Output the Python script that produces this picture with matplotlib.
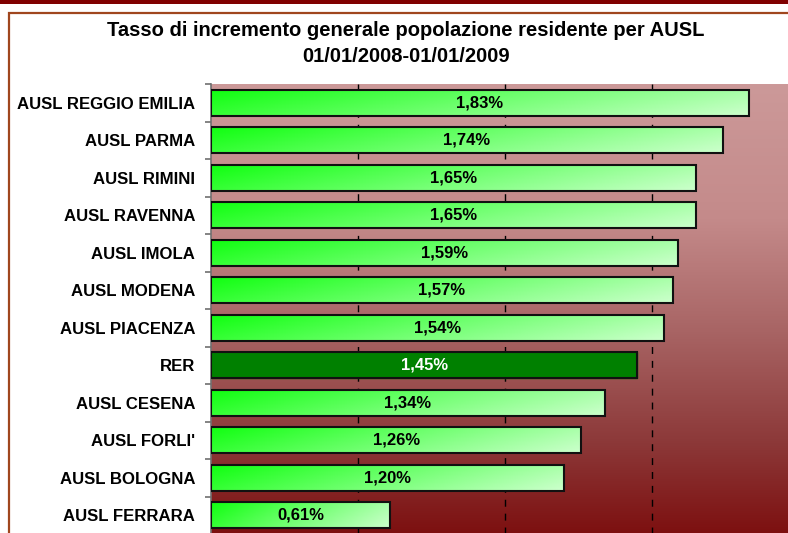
import numpy as np
import matplotlib
matplotlib.use('Agg')
import matplotlib.pyplot as plt
from matplotlib.colors import LinearSegmentedColormap
from matplotlib.patches import Rectangle

plt.rcParams['font.family'] = ['Liberation Sans', 'DejaVu Sans']

# Data
labels = ["AUSL REGGIO EMILIA", "AUSL PARMA", "AUSL RIMINI", "AUSL RAVENNA",
          "AUSL IMOLA", "AUSL MODENA", "AUSL PIACENZA", "RER", "AUSL CESENA",
          "AUSL FORLI'", "AUSL BOLOGNA", "AUSL FERRARA"]
values = [1.83, 1.74, 1.65, 1.65, 1.59, 1.57, 1.54, 1.45, 1.34, 1.26, 1.20, 0.61]
highlight = "RER"

W, H = 788, 533
fig = plt.figure(figsize=(W / 100, H / 100), dpi=100)

# plot area (pixels: left 211, top 84, zero..2.0 spans 588 px)
ax = fig.add_axes([211 / W, (H - 534) / H, 588 / W, 450 / H])
ax.set_xlim(0, 2.0)
ax.set_ylim(len(labels) - 0.5, -0.5)

# background gradient, light pink at top to dark red at bottom
bg_cmap = LinearSegmentedColormap.from_list(
    'bg', [(0.0, '#cc9999'), (0.3, '#c48a8a'), (0.55, '#a86464'),
           (0.8, '#8c3838'), (1.0, '#7d1010')])
grad = np.linspace(0, 1, 256).reshape(-1, 1)
ax.imshow(grad, cmap=bg_cmap, aspect='auto', extent=[0, 2.0, len(labels) - 0.5, -0.5],
          zorder=0)

# gridlines
for gx in [0.5, 1.0, 1.5]:
    ax.axvline(gx, color='black', lw=1, ls=(0, (5, 5)), zorder=1)

# bars
bar_h = 0.7
bar_cmap = LinearSegmentedColormap.from_list('bar', ['#10ff10', '#70ff70', '#ccffcc'])
gx_, gy_ = np.meshgrid(np.linspace(0, 1, 200), np.linspace(0, 1, 20))
bar_grad = 0.8 * gx_ + 0.2 * gy_
bars = ax.barh(range(len(labels)), values, height=bar_h, facecolor='none',
               edgecolor='#111111', lw=1.5, zorder=3)
for i, (lab, v) in enumerate(zip(labels, values)):
    if lab == highlight:
        ax.add_patch(Rectangle((0, i - bar_h / 2), v, bar_h, color='#008000', zorder=2))
        col = 'white'
    else:
        ax.imshow(bar_grad, cmap=bar_cmap, aspect='auto', vmin=0, vmax=1,
                  extent=[0, v, i + bar_h / 2, i - bar_h / 2], zorder=2)
        col = 'black'
    ax.text(v / 2, i, f"{v:.2f}".replace('.', ',') + '%', ha='center', va='center',
            fontsize=12, fontweight='bold', color=col, zorder=4)

ax.set_xlim(0, 2.0)
ax.set_ylim(len(labels) - 0.5, -0.5)

# axes styling
for s in ['top', 'right', 'bottom']:
    ax.spines[s].set_visible(False)
ax.spines['left'].set_color('#707070')
ax.spines['left'].set_linewidth(1.2)
ax.set_xticks([])
ax.set_yticks(range(len(labels)))
ax.set_yticklabels(labels, fontsize=12.1, fontweight='bold')
ax.set_yticks(np.arange(-0.5, len(labels), 1), minor=True)
ax.tick_params(axis='y', which='major', length=0, pad=11.5)
ax.tick_params(axis='y', which='minor', length=4, color='#707070', width=1.2)

# title
fig.text(406 / W, 1 - 31 / H, "Tasso di incremento generale popolazione residente per AUSL",
         ha='center', va='center', fontsize=14.5, fontweight='bold')
fig.text(406 / W, 1 - 56 / H, "01/01/2008-01/01/2009",
         ha='center', va='center', fontsize=14.5, fontweight='bold')

# frame decorations
fig.add_artist(Rectangle((0, 1 - 3.5 / H), 1, 3.5 / H, transform=fig.transFigure,
                         color='#800000', lw=0))
fig.add_artist(Rectangle((9 / W, -0.05), 1.0, 1 - 13 / H + 0.05, transform=fig.transFigure,
                         facecolor='none', edgecolor='#a0461e', lw=1.6))

fig.savefig('out.png', dpi=100)
